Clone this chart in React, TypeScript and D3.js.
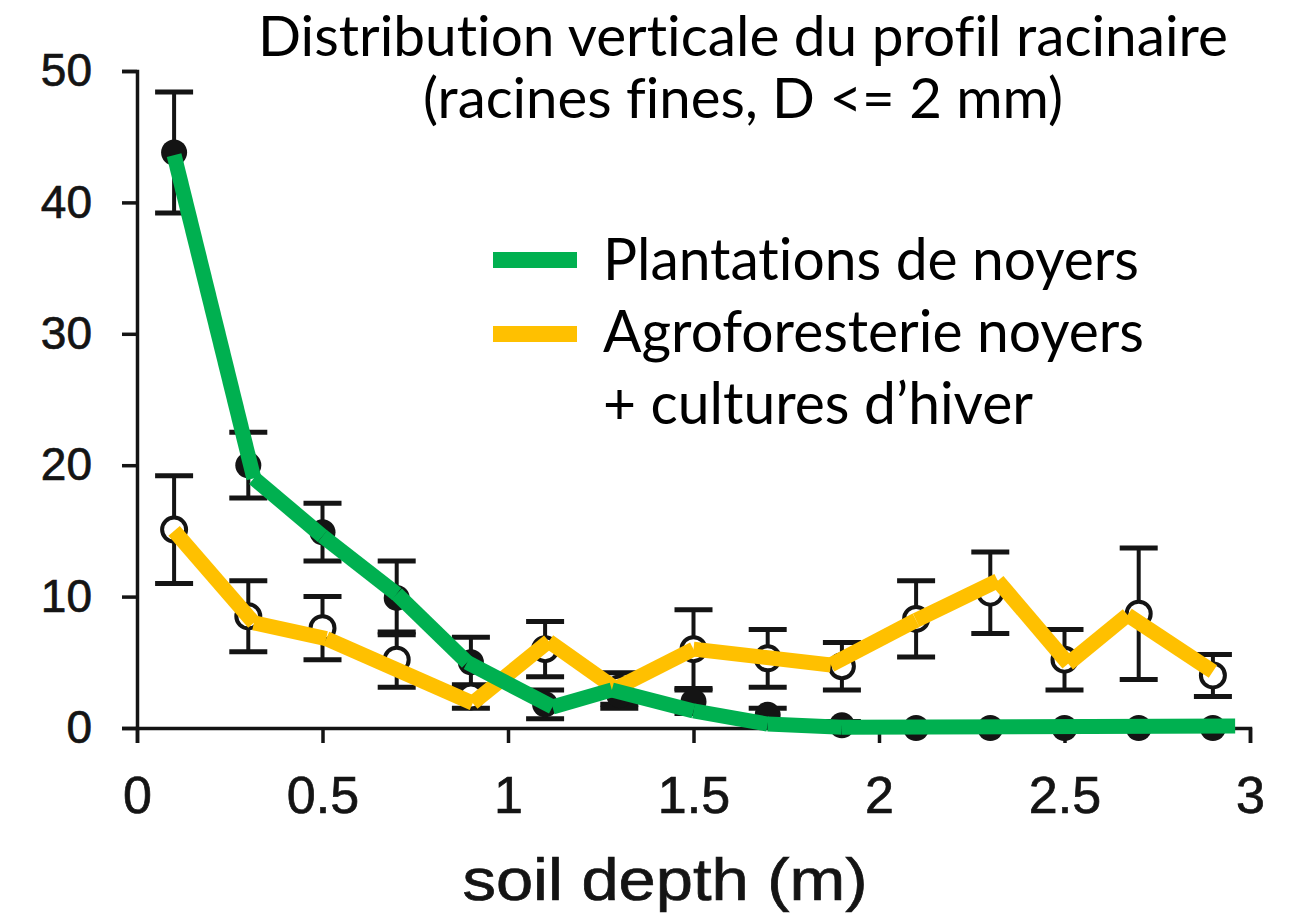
import React, { useEffect, useRef } from 'react';
import * as d3 from 'd3';

// sampling depths (m), centre of each 20 cm layer
const depths = [0.1, 0.3, 0.5, 0.7, 0.9, 1.1, 1.3, 1.5, 1.7, 1.9, 2.1, 2.3, 2.5, 2.7, 2.9];
// filled circles: walnut plantation
const plantationMeans = [43.8, 20.0, 14.9, 9.9, 5.0, 1.8, 2.5, 2.0, 1.0, 0.2, 0, 0, 0, 0, 0];
const plantationErrors = [4.6, 2.5, 2.2, 2.8, 1.9, 1.1, 1.0, 0.9, 0.5, 0.3, 0, 0, 0, 0, 0];
// open circles: agroforestry walnut + winter crops
const agroMeans = [15.1, 8.5, 7.6, 5.2, 2.4, 6.0, 3.0, 6.0, 5.3, 4.7, 8.3, 10.3, 5.2, 8.7, 4.0];
const agroErrors = [4.1, 2.7, 2.4, 2.1, 0.9, 2.1, 1.2, 3.0, 2.2, 1.8, 2.9, 3.1, 2.3, 5.0, 1.6];

// coloured lines drawn over the original figure, [depth, value]
const greenTrace: [number, number][] = [
  [0.1, 43.6], [0.315, 19.0], [0.5, 14.6], [0.7, 10.2], [0.89, 5.0], [1.12, 1.6],
  [1.28, 2.9], [1.5, 1.3], [1.7, 0.3], [1.9, 0.05], [2.96, 0.15],
];
const yellowTrace: [number, number][] = [
  [0.1, 15.0], [0.315, 8.0], [0.51, 6.8], [0.905, 1.9], [1.11, 6.6], [1.29, 3.0],
  [1.5, 6.0], [1.87, 4.8], [2.1, 8.2], [2.32, 11.2], [2.51, 4.9], [2.67, 8.6], [2.9, 4.3],
];

const xTicks = [0, 0.5, 1, 1.5, 2, 2.5, 3];
const yTicks = [0, 10, 20, 30, 40, 50];

const titleLines = ['Distribution verticale du profil racinaire', '(racines fines, D <= 2 mm)'];
const legendLabels = ['Plantations de noyers', 'Agroforesterie noyers', '+ cultures d\u2019hiver'];
const legendColors = ['#00B050', '#FFC000'];
const xLabel = 'soil depth (m)';

const W = 1294, H = 917;
const ink = '#141414';
const arial = '"Liberation Sans", Arial, Helvetica, sans-serif';
const calibri = 'Lato, "Open Sans", sans-serif';
const noLig = { fontVariantLigatures: 'none', fontFeatureSettings: '"liga" 0, "clig" 0' } as React.CSSProperties;

export default function App() {
  const xAxisRef = useRef<SVGGElement>(null);
  const yAxisRef = useRef<SVGGElement>(null);

  const x = d3.scaleLinear().domain([0, 3]).range([137, 1250]);
  const y = d3.scaleLinear().domain([0, 50]).range([728, 71]);
  const line = d3.line<[number, number]>().x(d => x(d[0])).y(d => y(d[1]));

  useEffect(() => {
    const yAxis = d3.axisLeft(y).tickValues(yTicks).tickSize(15).tickPadding(30);
    d3.select(yAxisRef.current!)
      .call(yAxis)
      .attr('font-size', 46)
      .attr('font-family', arial)
      .call(g => g.select('.domain').attr('stroke', ink).attr('stroke-width', 3.5))
      .call(g => g.selectAll('.tick line').attr('stroke', ink).attr('stroke-width', 3.5))
      .call(g => g.selectAll('.tick text').attr('fill', ink).attr('stroke', ink).attr('stroke-width', 0.7));

    const xAxis = d3.axisBottom(x).tickValues(xTicks).tickSize(15).tickPadding(33)
      .tickFormat(d => d3.format('')(d as number));
    d3.select(xAxisRef.current!)
      .call(xAxis)
      .attr('font-size', 52)
      .attr('font-family', arial)
      .call(g => g.select('.domain').attr('stroke', ink).attr('stroke-width', 3.5))
      .call(g => g.selectAll('.tick line').attr('stroke', ink).attr('stroke-width', 3.5))
      .call(g => g.selectAll('.tick text').attr('fill', ink).attr('stroke', ink).attr('stroke-width', 0.7));
  }, []);

  const segments = (trace: [number, number][]) =>
    trace.slice(1).map((p, i) => line([trace[i], p]) as string);

  const errorBar = (d: number, m: number, e: number, key: string) => {
    if (e <= 0) return null;
    const cx = x(d), half = 19;
    return (
      <g key={key} stroke={ink}>
        <line x1={cx} x2={cx} y1={y(m + e)} y2={y(m - e)} strokeWidth={4} />
        <line x1={cx - half} x2={cx + half} y1={y(m + e)} y2={y(m + e)} strokeWidth={5} />
        <line x1={cx - half} x2={cx + half} y1={y(m - e)} y2={y(m - e)} strokeWidth={5} />
      </g>
    );
  };

  return (
    <svg width={W} height={H} style={{ position: 'absolute', left: 0, top: 0, background: '#fff' }}>
      <g ref={yAxisRef} transform={`translate(${x(0)},0)`} />
      <g ref={xAxisRef} transform={`translate(0,${y(0)})`} />

      {/* original black error bars and markers */}
      {depths.map((d, i) => errorBar(d, agroMeans[i], agroErrors[i], `ae${i}`))}
      {depths.map((d, i) => errorBar(d, plantationMeans[i], plantationErrors[i], `pe${i}`))}
      {depths.map((d, i) => (
        <circle key={`ac${i}`} cx={x(d)} cy={y(agroMeans[i])} r={12} fill="#fff" stroke={ink} strokeWidth={4} />
      ))}
      {depths.map((d, i) => (
        <circle key={`pc${i}`} cx={x(d)} cy={y(plantationMeans[i])} r={13} fill={ink} />
      ))}

      {/* coloured overlay lines */}
      {segments(yellowTrace).map((p, i) => (
        <path key={`y${i}`} d={p} fill="none" stroke={legendColors[1]} strokeWidth={15} strokeLinecap="butt" />
      ))}
      {segments(greenTrace).map((p, i) => (
        <path key={`g${i}`} d={p} fill="none" stroke={legendColors[0]} strokeWidth={15} strokeLinecap="butt" />
      ))}

      <text x={665} y={900} textAnchor="middle" fontFamily={arial} fontSize={60} fill={ink}
        stroke={ink} strokeWidth={0.7} textLength={405} lengthAdjust="spacingAndGlyphs">{xLabel}</text>

      {/* title */}
      <g fontFamily={calibri} fontSize={57} fill="#000" textAnchor="middle" style={noLig}>
        <text x={743} y={56} textLength={970} lengthAdjust="spacingAndGlyphs">{titleLines[0]}</text>
        <text x={743} y={118} textLength={640} lengthAdjust="spacingAndGlyphs">{titleLines[1]}</text>
      </g>

      {/* legend */}
      <g fontFamily={calibri} fontSize={59} fill="#000" style={noLig}>
        <rect x={493} y={252} width={84} height={16} fill={legendColors[0]} />
        <rect x={493} y={326} width={84} height={16} fill={legendColors[1]} />
        <text x={603} y={280} textLength={536} lengthAdjust="spacingAndGlyphs">{legendLabels[0]}</text>
        <text x={603} y={352} textLength={541} lengthAdjust="spacingAndGlyphs">{legendLabels[1]}</text>
        <text x={603} y={424} textLength={430} lengthAdjust="spacingAndGlyphs">{legendLabels[2]}</text>
      </g>
    </svg>
  );
}
